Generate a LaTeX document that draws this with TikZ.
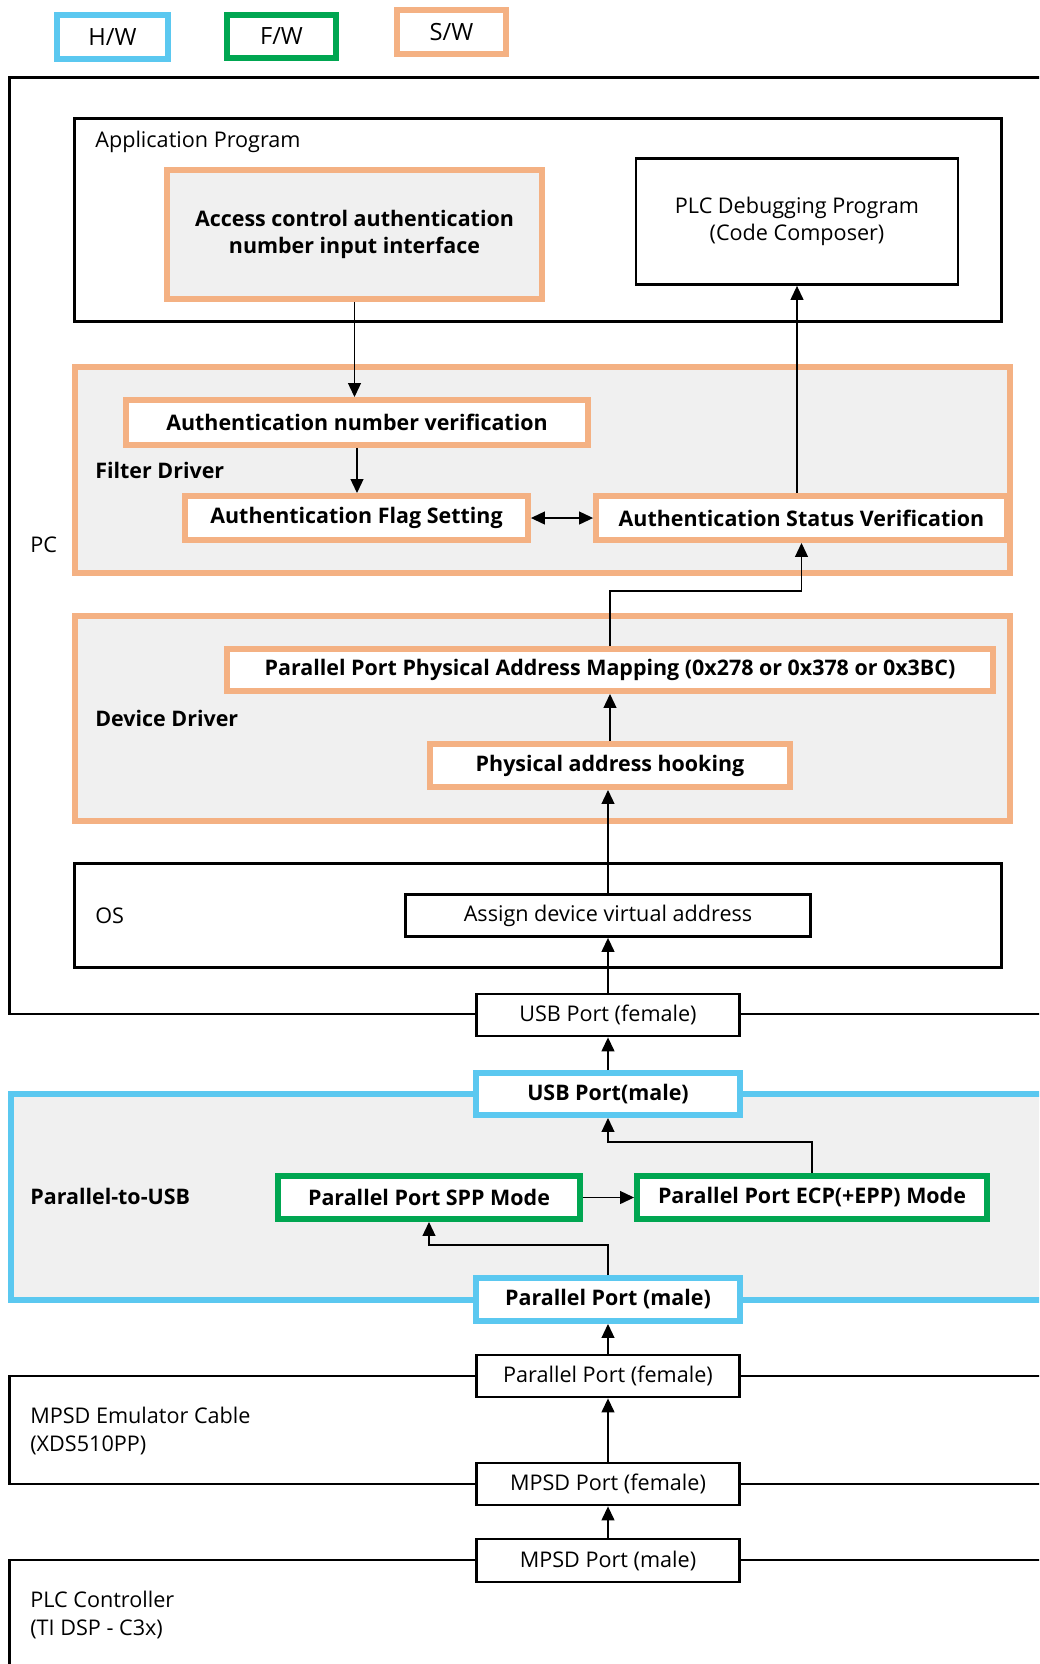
\documentclass[tikz,border=0pt]{standalone}
\usepackage{fontspec}
\setmainfont{Open Sans}
\usetikzlibrary{arrows.meta}
\definecolor{hw-blue}{HTML}{5BC8F0}
\definecolor{fw-green}{HTML}{00A651}
\definecolor{sw-orange}{HTML}{F4B183}
\definecolor{light-bg}{HTML}{F0F0F0}

\begin{document}
\begin{tikzpicture}[x=0.02cm, y=-0.02cm,
      every node/.style={font=\fontsize{12.3}{15.6}\selectfont},
      bold/.style={font=\fontsize{12.2}{15.6}\selectfont\bfseries},
      blk/.style={draw=black, line width=1.6pt, fill=white, align=center, inner sep=0pt},
      hw/.style={draw=hw-blue, line width=3.4pt, fill=white, align=center, inner sep=0pt},
      fw/.style={draw=fw-green, line width=3.4pt, fill=white, align=center, inner sep=0pt},
      sw/.style={draw=sw-orange, line width=3.4pt, fill=white, align=center, inner sep=0pt},
      lbl/.style={anchor=west, inner sep=0pt, align=left},
      arr/.style={-{Triangle[length=0.28cm, width=0.26cm]}, line width=0.7pt}]
    \useasboundingbox (0,0) rectangle (1039,1664);
    \clip (0,0) rectangle (1039,1664);

    % legend
    \node[hw, minimum width=2.22cm, minimum height=0.88cm, font=\fontsize{13.5}{16}\selectfont] (hwkey) at (112.5,37) {H/W};
    \node[fw, minimum width=2.18cm, minimum height=0.86cm, font=\fontsize{13.5}{16}\selectfont] (fwkey) at (281.5,36.5) {F/W};
    \node[sw, minimum width=2.18cm, minimum height=0.88cm, font=\fontsize{13.5}{16}\selectfont] (swkey) at (451.5,32) {S/W};

    % outer blocks
    \node[blk, minimum width=21.02cm, minimum height=18.74cm] (pc) at (534.5,545.5) {};
    \node[hw, fill=light-bg, minimum width=20.98cm, minimum height=4.12cm] (p2u) at (535.5,1197) {};
    \node[blk, minimum width=21.02cm, minimum height=2.16cm] (cable) at (534.5,1430) {};
    \node[blk, minimum width=21.02cm, minimum height=2.8cm] (plcctl) at (534.5,1630) {};
    \node[lbl] (pclbl) at (30,545) {PC};
    \node[lbl, bold] (p2ulbl) at (30,1196) {Parallel-to-USB};
    \node[lbl] (cablelbl) at (30,1431) {MPSD Emulator Cable\\(XDS510PP)};
    \node[lbl] (plcctllbl) at (30,1615) {PLC Controller\\(TI DSP - C3x)};

    % PC layers
    \node[blk, minimum width=18.54cm, minimum height=4.06cm] (app) at (538,220) {};
    \node[sw, fill=light-bg, minimum width=18.7cm, minimum height=4.12cm] (filter) at (542.5,470) {};
    \node[sw, fill=light-bg, minimum width=18.7cm, minimum height=4.1cm] (dev) at (542.5,718.5) {};
    \node[blk, minimum width=18.54cm, minimum height=2.08cm] (os) at (538,915.5) {};
    \node[lbl] (applbl) at (95,142) {Application Program};
    \node[lbl, bold] (filterlbl) at (95,470) {Filter Driver};
    \node[lbl, bold] (devlbl) at (95,718) {Device Driver};
    \node[lbl] (oslbl) at (95,916) {OS};

    \node[sw, bold, fill=light-bg, minimum width=7.5cm, minimum height=2.58cm] (acc) at (354.5,234.5)
          {Access control authentication\\number input interface};
    \node[blk, minimum width=6.44cm, minimum height=2.52cm] (plc) at (797,221.5)
          {PLC Debugging Program\\(Code Composer)};
    \node[sw, bold, minimum width=9.24cm, minimum height=0.9cm] (anv) at (357,422.5)
          {Authentication number verification};
    \node[sw, bold, minimum width=6.86cm, minimum height=0.88cm] (afs) at (356.5,518)
          {Authentication Flag Setting};
    \node[sw, bold, minimum width=8.22cm, minimum height=0.88cm] (asv) at (801.5,518)
          {Authentication Status Verification};
    \node[sw, bold, minimum width=15.32cm, minimum height=0.84cm] (ppm) at (610,670)
          {Parallel Port Physical Address Mapping (0x278 or 0x378 or 0x3BC)};
    \node[sw, bold, minimum width=7.22cm, minimum height=0.86cm] (pah) at (610,765.5)
          {Physical address hooking};
    \node[blk, minimum width=8.1cm, minimum height=0.84cm] (adva) at (608,915.5)
          {Assign device virtual address};

    % ports
    \node[blk, minimum width=5.26cm, minimum height=0.84cm] (usbf) at (608,1015) {USB Port (female)};
    \node[hw, bold, minimum width=5.28cm, minimum height=0.84cm] (usbm) at (608,1094) {USB Port(male)};
    \node[fw, bold, minimum width=6.04cm, minimum height=0.86cm] (spp) at (429,1197.5) {Parallel Port SPP Mode};
    \node[fw, bold, minimum width=7.0cm, minimum height=0.86cm] (ecp) at (812,1197.5) {Parallel Port ECP(+EPP) Mode};
    \node[hw, bold, minimum width=5.28cm, minimum height=0.86cm] (ppmale) at (608,1299.5) {Parallel Port (male)};
    \node[blk, minimum width=5.26cm, minimum height=0.84cm] (ppf) at (608,1376) {Parallel Port (female)};
    \node[blk, minimum width=5.26cm, minimum height=0.84cm] (mpsdf) at (608,1484) {MPSD Port (female)};
    \node[blk, minimum width=5.26cm, minimum height=0.86cm] (mpsdm) at (608,1560.5) {MPSD Port (male)};

    % connectors
    \draw[arr] (acc.south) -- (acc.south |- anv.north);
    \draw[arr] (anv.south) -- (anv.south |- afs.north);
    \draw[{Triangle[length=0.28cm, width=0.26cm]}-{Triangle[length=0.28cm, width=0.26cm]}, line width=0.7pt]
          (afs.east) -- (asv.west);
    \draw[arr] (plc.south |- asv.north) -- (plc.south);
    \draw[arr] (ppm.north) -- ++(0,-55) -| (asv.south);
    \draw[arr] (pah.north) -- (ppm.south);
    \draw[arr] (adva.north) -- (adva.north |- pah.south);
    \draw[arr] (usbf.north) -- (adva.south);
    \draw[arr] (usbm.north) -- (usbf.south);
    \draw[arr] (ecp.north) -- ++(0,-31) -| (usbm.south);
    \draw[arr] (spp.east) -- (ecp.west);
    \draw[arr] (ppmale.north) -- ++(0,-30) -| (spp.south);
    \draw[arr] (ppf.north) -- (ppmale.south);
    \draw[arr] (mpsdf.north) -- (ppf.south);
    \draw[arr] (mpsdm.north) -- (mpsdf.south);
\end{tikzpicture}
\end{document}
